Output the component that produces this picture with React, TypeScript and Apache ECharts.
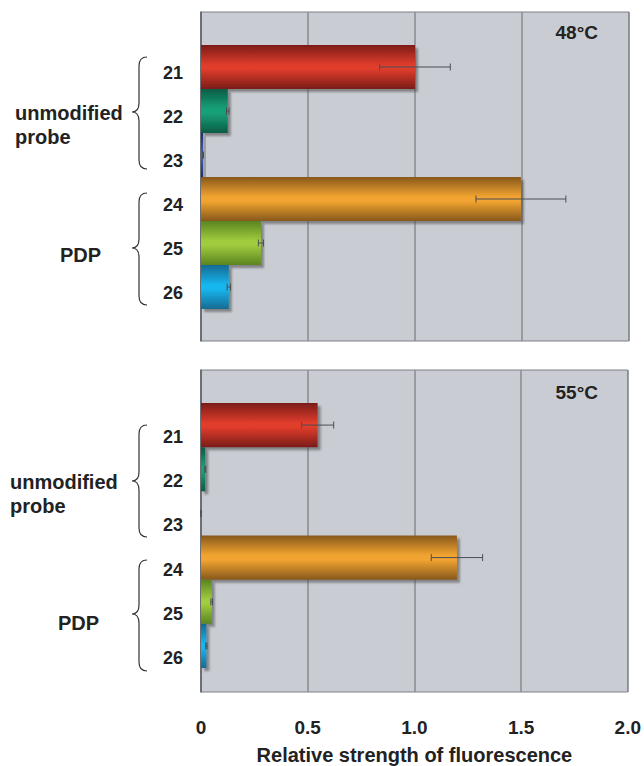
import React, { useEffect, useRef } from "react";
import * as echarts from "echarts";

const categories = ["21", "22", "23", "24", "25", "26"];
const values48 = [1.0, 0.125, 0.01, 1.495, 0.28, 0.13];
const errors48 = [0.165, 0.006, 0.002, 0.21, 0.012, 0.008];
const values55 = [0.545, 0.02, 0, 1.196, 0.05, 0.025];
const errors55 = [0.075, 0.002, 0, 0.12, 0.004, 0.003];
const xTicks = [0, 0.5, 1.0, 1.5, 2.0];
const panelTitles = ["48\u00B0C", "55\u00B0C"];
const groupNames = ["unmodified\nprobe", "PDP"];
const xAxisTitle = "Relative strength of fluorescence";

const barColors = [
  ["#7a1c18", "#e03c2c"],
  ["#0c5c44", "#16a07a"],
  ["#1c2f70", "#3d60b8"],
  ["#87581c", "#f2a430"],
  ["#5a8420", "#a0cc3e"],
  ["#186a92", "#12b6ee"],
];

const FONT = "Liberation Sans, Arial, Helvetica, sans-serif";

function bracePath(x0: number, xr: number, yt: number, ym: number, yb: number) {
  const xm = x0 + 7;
  const r = 9;
  return (
    `M${xr} ${yt} Q${xm} ${yt} ${xm} ${yt + r} L${xm} ${ym - r} ` +
    `Q${xm} ${ym} ${x0} ${ym} Q${xm} ${ym} ${xm} ${ym + r} ` +
    `L${xm} ${yb - r} Q${xm} ${yb} ${xr} ${yb}`
  );
}

const braces = [
  bracePath(132, 147, 57, 112, 169),
  bracePath(132, 147, 193, 248, 305),
  bracePath(132, 147, 425, 481, 537),
  bracePath(132, 147, 560, 614, 671),
];
braces.forEach((d, i) => {
  echarts.graphic.registerShape("brace" + i, echarts.graphic.extendPath(d, {}));
});

function grad(c: string[]) {
  return new echarts.graphic.LinearGradient(0, 0, 0, 1, [
    { offset: 0, color: c[0] },
    { offset: 0.45, color: c[1] },
    { offset: 0.55, color: c[1] },
    { offset: 1, color: c[0] },
  ]);
}

function barData(vals: number[]) {
  return vals.map((v, i) => ({ value: v, itemStyle: { color: grad(barColors[i]) } }));
}

function errData(vals: number[], errs: number[]) {
  return vals.map((v, i) => [v - errs[i], v + errs[i], i]);
}

const renderErr = (params: any, api: any) => {
  const cat = api.value(2);
  const lo = api.coord([api.value(0), cat]);
  const hi = api.coord([api.value(1), cat]);
  const y = lo[1];
  const h = 3.5;
  const style = { stroke: "#4a4e54", lineWidth: 1 };
  return {
    type: "group",
    children: [
      { type: "line", shape: { x1: lo[0], y1: y, x2: hi[0], y2: y }, style },
      { type: "line", shape: { x1: lo[0], y1: y - h, x2: lo[0], y2: y + h }, style },
      { type: "line", shape: { x1: hi[0], y1: y - h, x2: hi[0], y2: y + h }, style },
    ],
  };
};

export default function App() {
  const ref = useRef<HTMLDivElement>(null);
  useEffect(() => {
    if (!ref.current) return;
    const chart = echarts.init(ref.current, undefined, { renderer: "svg" });
    const L = 201;
    const W = 428;
    const grid: any[] = [
      { left: L, top: 12, width: W, height: 329, show: true, backgroundColor: "#c9cdd3", borderColor: "#7c8086", borderWidth: 1 },
      { left: L, top: 370, width: W, height: 330, show: true, backgroundColor: "#c9cdd3", borderColor: "#7c8086", borderWidth: 1 },
      { left: L, top: 45, width: W, height: 264 },
      { left: L, top: 403, width: W, height: 265 },
    ];

    const split = { show: true, lineStyle: { color: "#878b91", width: 1.5 } };
    const xAxis: any[] = [
      {
        gridIndex: 0,
        type: "value",
        min: 0,
        max: 2,
        interval: 0.5,
        axisLine: { show: false },
        axisTick: { show: false },
        axisLabel: { show: false },
        splitLine: split,
      },
      {
        gridIndex: 1,
        type: "value",
        min: 0,
        max: 2,
        interval: 0.5,
        axisLine: { show: false },
        axisTick: { show: false },
        axisLabel: {
          show: true,
          margin: 26,
          fontSize: 19,
          fontWeight: "bold",
          fontFamily: FONT,
          color: "#222",
          formatter: (v: number) => (xTicks.indexOf(v) >= 0 ? (v === 0 ? "0" : v.toFixed(1)) : ""),
        },
        splitLine: split,
        name: xAxisTitle,
        nameLocation: "middle",
        nameGap: 53,
        nameTextStyle: { fontSize: 20, fontWeight: "bold", fontFamily: FONT, color: "#222" },
      },
      { gridIndex: 2, type: "value", min: 0, max: 2, show: false },
      { gridIndex: 3, type: "value", min: 0, max: 2, show: false },
    ];

    const yAxis: any[] = [0, 1].map((g) => ({
      gridIndex: g,
      type: "value",
      axisLine: { show: true, lineStyle: { color: "#5f6368", width: 1.5 } },
      axisTick: { show: false },
      axisLabel: { show: false },
      splitLine: { show: false },
    }));
    [12, 24].forEach((lh, k) =>
      yAxis.push({
        gridIndex: 2 + k,
        type: "category",
        inverse: true,
        data: categories,
        axisLine: { show: false },
        axisTick: { show: false },
        axisLabel: {
          margin: 18,
          fontSize: 18,
          fontWeight: "bold",
          fontFamily: FONT,
          color: "#222",
          verticalAlign: "top",
          lineHeight: lh,
        },
      })
    );

    const shadow = {
      shadowColor: "rgba(70,70,70,0.55)",
      shadowOffsetX: 3,
      shadowOffsetY: 3,
      shadowBlur: 2,
    };

    const series: any[] = [];
    [
      [values48, errors48],
      [values55, errors55],
    ].forEach(([vals, errs], k) => {
      series.push({
        type: "bar",
        xAxisIndex: 2 + k,
        yAxisIndex: 2 + k,
        barWidth: "100%",
        itemStyle: shadow,
        data: barData(vals),
      });
      series.push({
        type: "custom",
        xAxisIndex: 2 + k,
        yAxisIndex: 2 + k,
        renderItem: renderErr,
        encode: { x: [0, 1], y: 2 },
        data: errData(vals, errs),
        z: 5,
      });
    });

    const textStyle = (extra: any) => ({
      fontSize: 19,
      fontWeight: "bold",
      fontFamily: FONT,
      fill: "#222",
      ...extra,
    });
    const groupStyle = (extra: any) => textStyle({ fontSize: 20, ...extra });

    const graphic: any[] = [
      { type: "text", x: 598, y: 32, style: textStyle({ text: panelTitles[0], align: "right", verticalAlign: "middle" }) },
      { type: "text", x: 598, y: 392, style: textStyle({ text: panelTitles[1], align: "right", verticalAlign: "middle" }) },
      { type: "text", x: 15, y: 101, style: groupStyle({ text: groupNames[0], lineHeight: 24, verticalAlign: "top" }) },
      { type: "text", x: 10, y: 470, style: groupStyle({ text: groupNames[0], lineHeight: 24, verticalAlign: "top" }) },
      { type: "text", x: 60, y: 255, style: groupStyle({ text: groupNames[1], verticalAlign: "middle" }) },
      { type: "text", x: 58, y: 623, style: groupStyle({ text: groupNames[1], verticalAlign: "middle" }) },
    ];
    braces.forEach((_, i) =>
      graphic.push({
        type: "brace" + i,
        x: 0,
        y: 0,
        style: { stroke: "#333", lineWidth: 1.2, fill: "none" },
      })
    );

    chart.setOption({
      animation: false,
      backgroundColor: "#ffffff",
      grid,
      xAxis,
      yAxis,
      series,
      graphic,
    });
    return () => chart.dispose();
  }, []);
  return (
    <div
      ref={ref}
      style={{ position: "fixed", left: 0, top: 0, width: 644, height: 766 }}
    />
  );
}
